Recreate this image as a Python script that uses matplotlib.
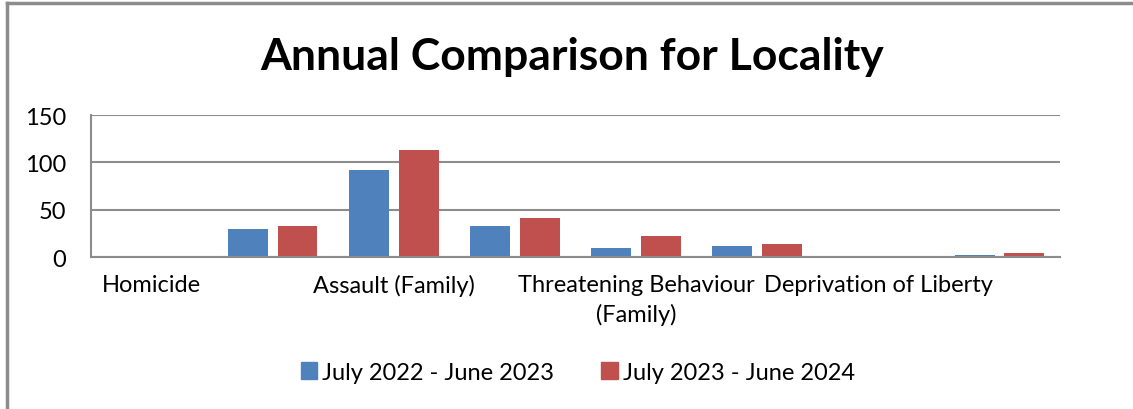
import matplotlib.pyplot as plt
import numpy as np
from matplotlib.patches import Patch
from matplotlib.lines import Line2D

plt.rcParams['font.family'] = ['Lato', 'DejaVu Sans']

tick_labels = ["Homicide", "", "Assault (Family)", "", "Threatening Behaviour\n(Family)", "",
               "Deprivation of Liberty", ""]
y2223 = [0, 30, 92, 33, 9, 12, 1, 2]
y2324 = [1, 33, 113, 41, 22, 14, 1, 4]
series_names = ["July 2022 - June 2023", "July 2023 - June 2024"]

blue = "#4F81BD"
red = "#C0504D"

fig = plt.figure(figsize=(11.33, 4.10), dpi=100)
ax = fig.add_axes([0.0803, 0.3707, 0.8553, 0.3463])

x = np.arange(len(tick_labels))
w = 0.33
ax.bar(x - 0.205, y2223, w, color=blue)
ax.bar(x + 0.205, y2324, w, color=red)

ax.set_xlim(-0.5, len(tick_labels) - 0.5)
ax.set_ylim(0, 150)
ax.set_yticks([0, 50, 100, 150])
ax.yaxis.grid(True, color="#8c8c8c", linewidth=1.5)
ax.set_axisbelow(True)
for s in ["top", "right"]:
    ax.spines[s].set_visible(False)
ax.spines["left"].set_color("#8c8c8c")
ax.spines["bottom"].set_color("#8c8c8c")
ax.spines["left"].set_linewidth(1.5)
ax.spines["bottom"].set_linewidth(1.5)
ax.tick_params(axis="x", length=0, labelsize=17, pad=12)
ax.tick_params(axis="y", length=0, labelsize=17, pad=18)
ax.set_xticks(x)
ax.set_xticklabels(tick_labels, linespacing=1.45)

fig.text(0.505, 0.86, "Annual Comparison for Locality", ha="center", va="center",
         fontsize=32, fontweight="bold")

handles = [Patch(color=blue), Patch(color=red)]
fig.legend(handles, series_names, loc="center", bbox_to_anchor=(0.51, 0.09), ncol=2,
           frameon=False, fontsize=17, handlelength=0.7, handleheight=0.7,
           handletextpad=0.2, columnspacing=2.0)

# chart border
fig.add_artist(Line2D([0.0066, 0.0066], [0, 0.99], color="#8c8c8c", linewidth=2.5))
fig.add_artist(Line2D([0.0066, 1.0], [0.99, 0.99], color="#8c8c8c", linewidth=2.5))

fig.savefig("out.png", dpi=100)
